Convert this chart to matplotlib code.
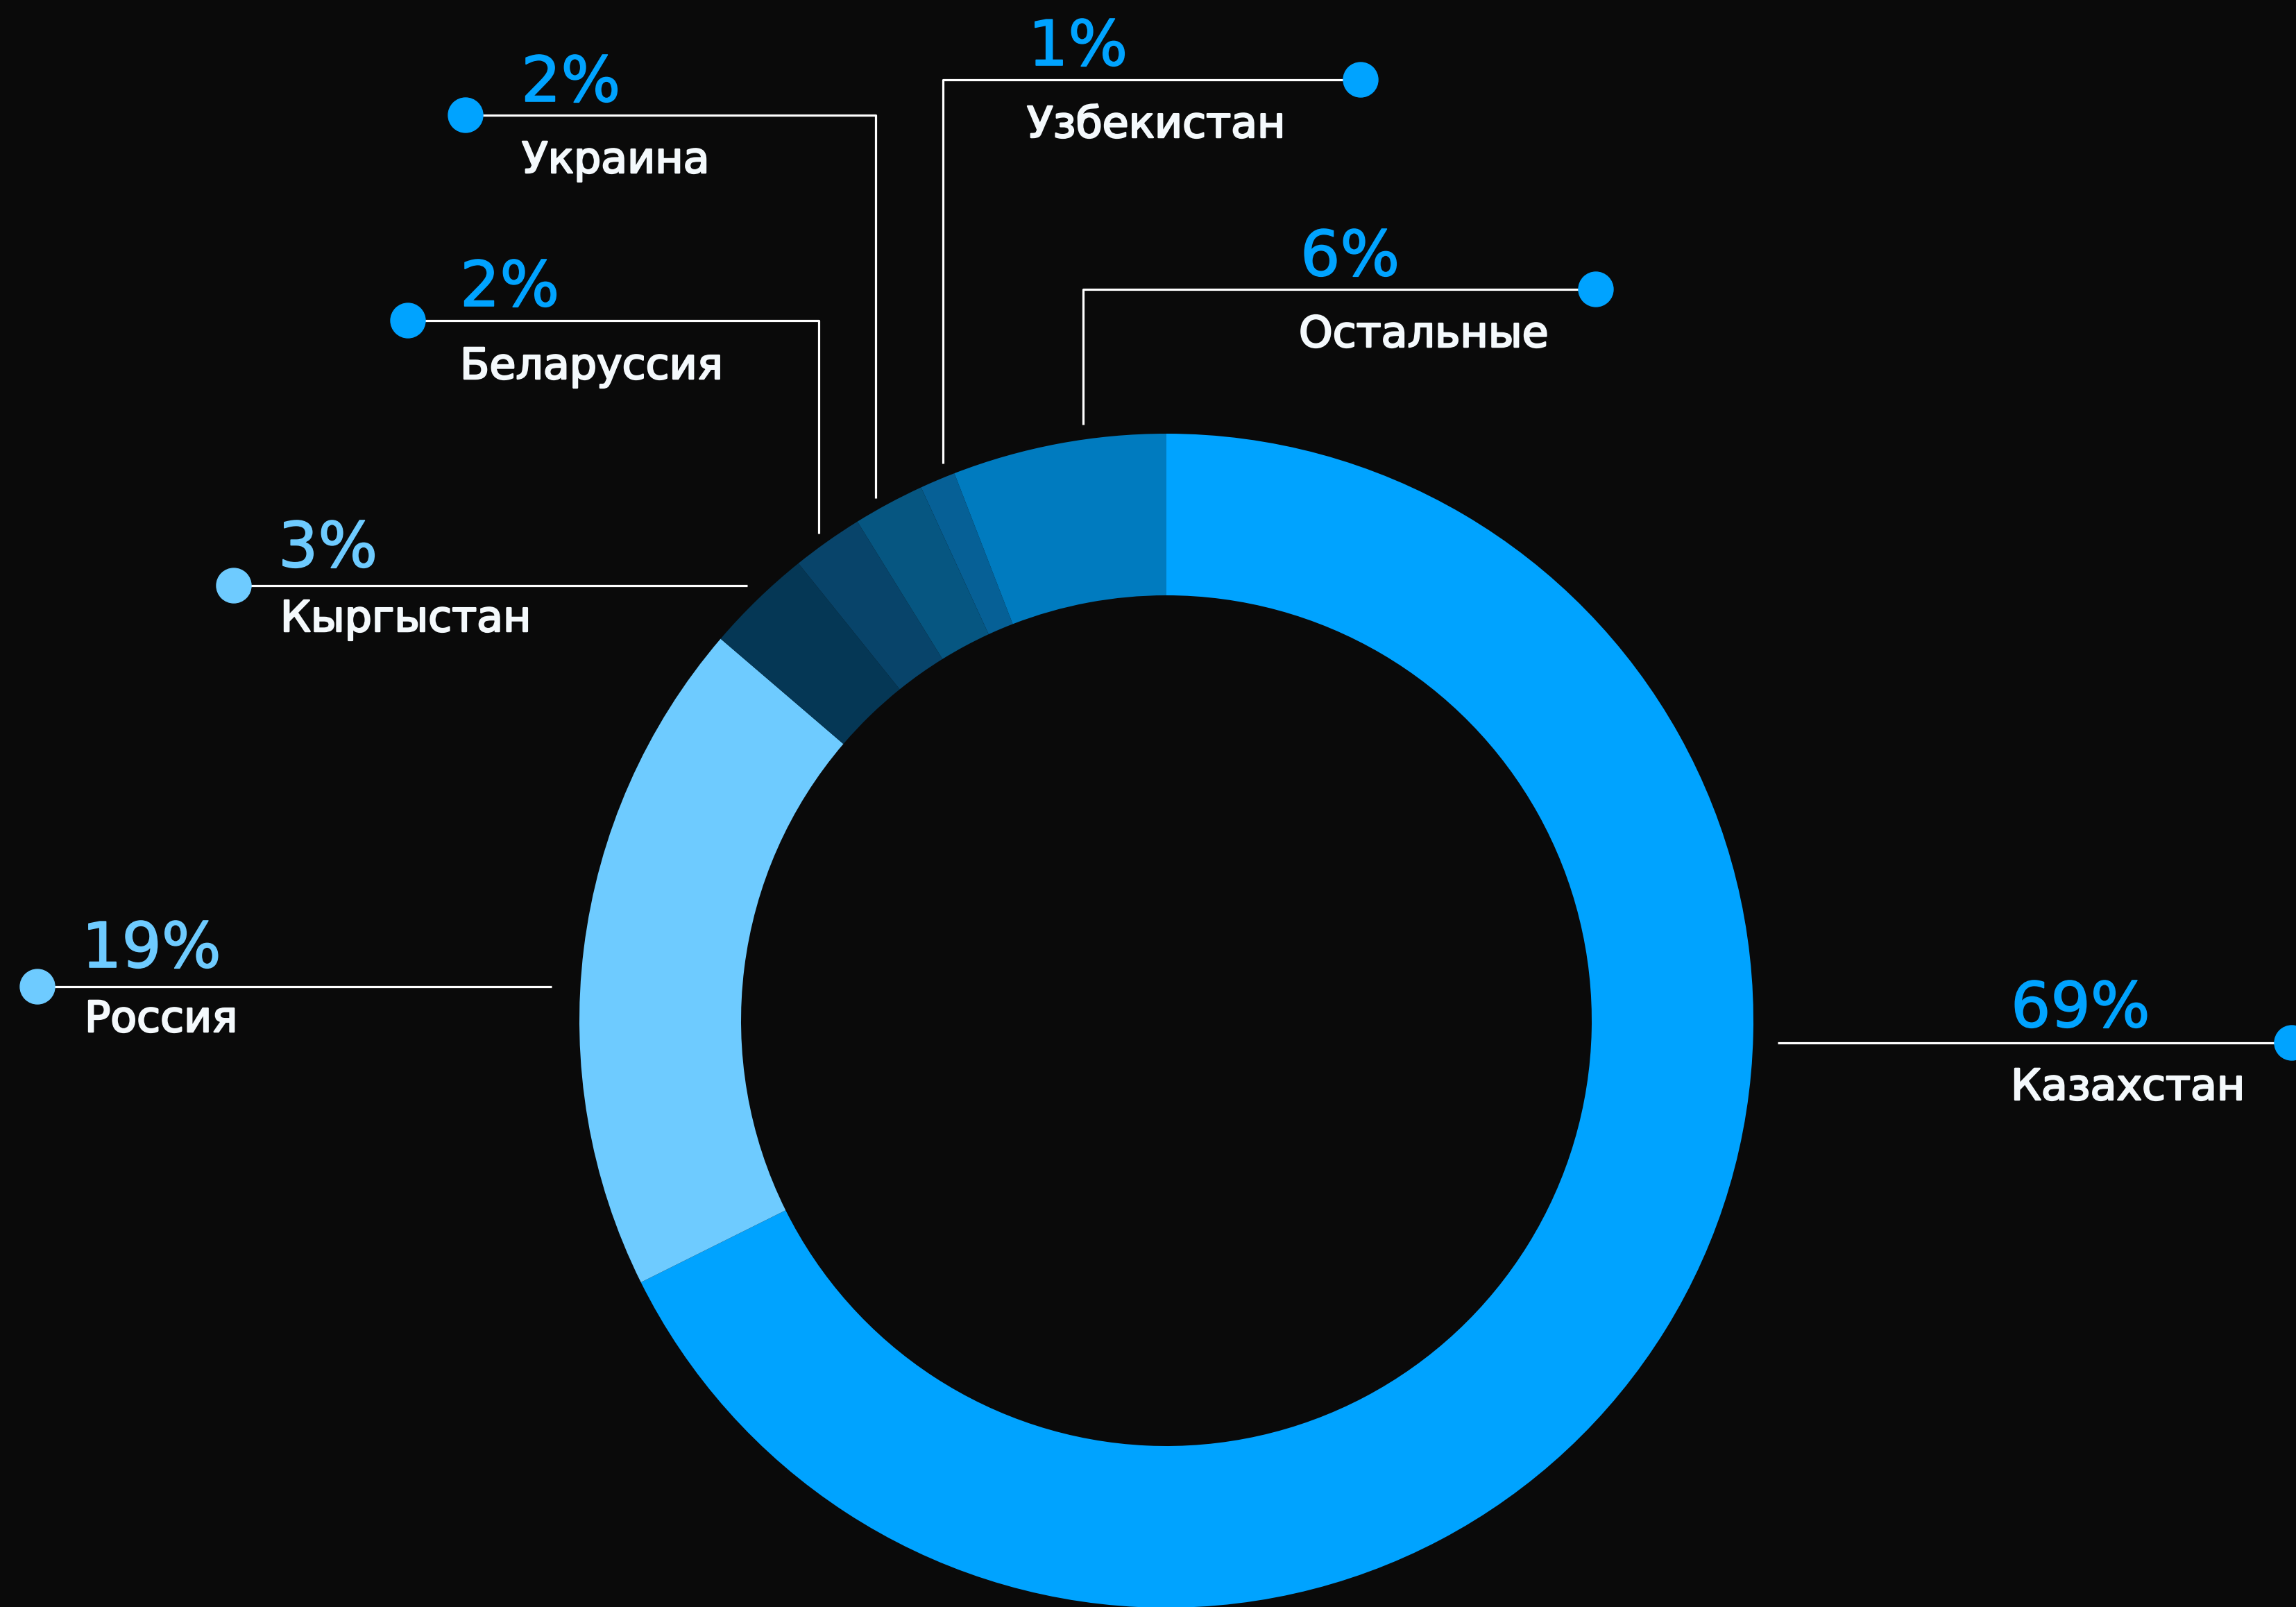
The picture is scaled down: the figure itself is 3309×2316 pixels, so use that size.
import matplotlib.pyplot as plt
import matplotlib.patheffects as pe
from matplotlib.patches import Circle

countries = ["Казахстан", "Россия", "Кыргыстан", "Беларуссия", "Украина", "Узбекистан", "Остальные"]
shares = [69, 19, 3, 2, 2, 1, 6]

wedge_colors = ["#00a3ff", "#6ecbff", "#053755", "#08446a", "#065681", "#066096", "#007bbf"]
label_colors = ["#00a3ff", "#6ecbff", "#6ecbff", "#00a3ff", "#00a3ff", "#00a3ff", "#00a3ff"]

W, H = 3309, 2316
BG = "#0a0a0a"
NAME_COLOR = "#f4f9fc"

# layout in image pixels (measured from top-left)
dots = [(3303, 1503), (54, 1422), (337, 844), (588, 462), (671, 166), (1961, 115), (2300, 417)]
leaders = [
    [(3303, 1503), (2562, 1503)],
    [(54, 1422), (795, 1422)],
    [(337, 844), (1077, 844)],
    [(588, 462), (1180, 462), (1180, 769)],
    [(671, 166), (1262, 166), (1262, 718)],
    [(1961, 115), (1359, 115), (1359, 668)],
    [(2300, 417), (1561, 417), (1561, 612)],
]
pct_pos = [(2898, 1480), (118, 1394), (401, 817), (663, 441), (751, 146), (1482, 94), (1874, 397)]
name_pos = [(2898, 1585), (122, 1487), (404, 910), (663, 546), (752, 249), (1480, 198), (1872, 500)]


def flip(p):
    return p[0], H - p[1]


fig = plt.figure(figsize=(W / 100, H / 100), dpi=100, facecolor=BG)
ax = fig.add_axes([0, 0, 1, 1])
ax.set_facecolor(BG)

cx, cy = flip((1681, 1471))
ax.pie(
    shares,
    colors=wedge_colors,
    startangle=90,
    counterclock=False,
    radius=846,
    center=(cx, cy),
    wedgeprops=dict(width=233, linewidth=0),
)

for i in range(len(countries)):
    pts = [flip(p) for p in leaders[i]]
    ax.plot([p[0] for p in pts], [p[1] for p in pts], color="white", lw=2.3, solid_capstyle="butt", zorder=3)
    ax.add_patch(Circle(flip(dots[i]), 25, color=label_colors[i], zorder=4))

    x, y = flip(pct_pos[i])
    ax.text(x, y, f"{shares[i]}%", color=label_colors[i], fontsize=65, family="DejaVu Sans",
            ha="left", va="baseline",
            path_effects=[pe.withStroke(linewidth=1.2, foreground=label_colors[i])])
    x, y = flip(name_pos[i])
    ax.text(x, y, countries[i], color=NAME_COLOR, fontsize=44.5, family="DejaVu Sans",
            ha="left", va="baseline",
            path_effects=[pe.withStroke(linewidth=1.8, foreground=NAME_COLOR)])

ax.set_xlim(0, W)
ax.set_ylim(0, H)
ax.set_aspect("equal")
ax.axis("off")

fig.savefig("out.png", dpi=100, facecolor=BG)
